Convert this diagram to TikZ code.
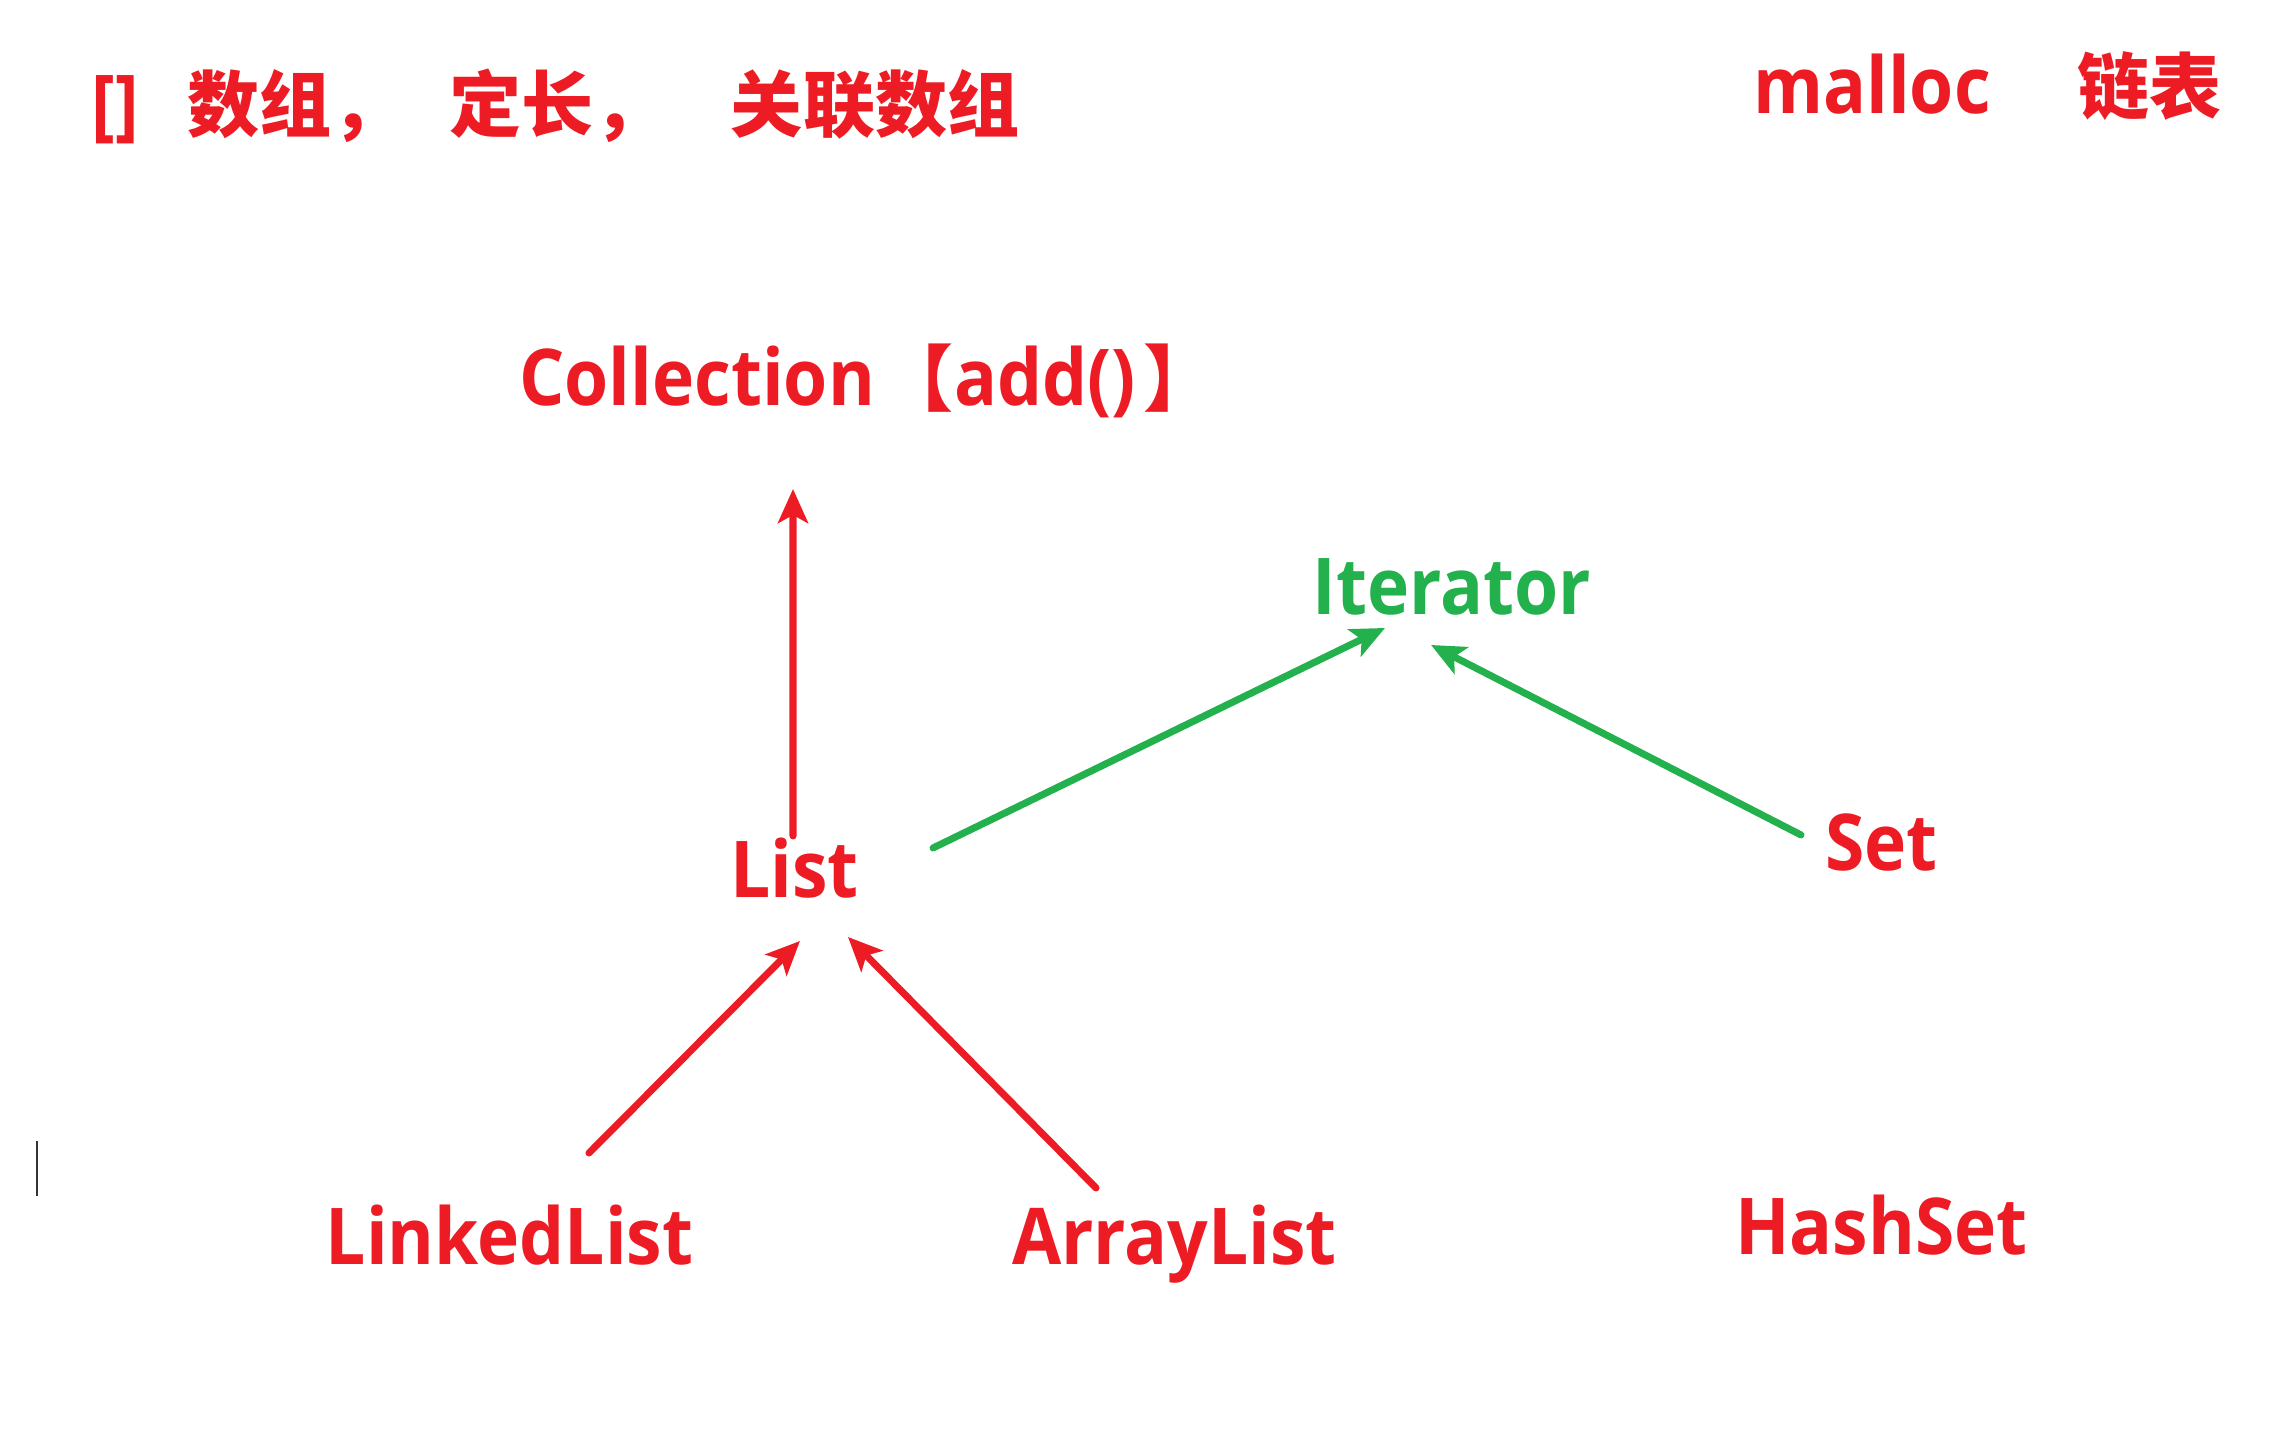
\documentclass[tikz,border=0pt]{standalone}
\usepackage{fontspec}
\setmainfont{Open Sans}[FakeStretch=0.91]
\newfontfamily\cjk{Noto Sans CJK SC}
\usetikzlibrary{arrows.meta,positioning}
\definecolor{paintred}{RGB}{237,28,36}
\definecolor{paintgreen}{RGB}{34,177,76}
\newcommand{\cjkbig}{\fontsize{20.5pt}{24pt}\selectfont\cjk\bfseries}
\tikzset{
    label/.style = {inner sep=0pt, anchor=base, text=paintred,
        font=\fontsize{22.3pt}{26pt}\selectfont\bfseries},
    cjklabel/.style = {inner sep=0pt, anchor=base, text=paintred,
        font=\cjkbig},
    redarrow/.style = {draw=paintred, line width=2pt, line cap=round,
        -{Stealth[length=0.34cm, width=0.30cm, inset=0.08cm]}},
    greenarrow/.style = {redarrow, draw=paintgreen}
}
\begin{document}
\begin{tikzpicture}
    \useasboundingbox (0,0) rectangle (22.69,14.50);
    % top line notes
    \node [label, anchor=base west] (head) at (0.91,13.18)
        {\makebox[0.96cm][l]{[]}{\cjkbig 数组，\hspace{0.46cm}定长，\hspace{0.65cm}关联数组}};
    \node [label] (malloc) at (18.72,13.36) {malloc};
    \node [cjklabel] (lianbiao) at (21.495,13.36) {链表};
    % hierarchy
    \node [label] (coll) at (8.675,10.44) {Collection\hspace{0.07cm}{\cjkbig 【}add()\hspace{0.08cm}{\cjkbig 】}};
    \node [label, text=paintgreen] (iter) at (14.52,8.35) {Iterator};
    \node [label] (list) at (7.945,5.52) {List};
    \node [label] (set) at (18.815,5.79) {Set};
    \node [label] (linked) at (5.095,1.85) {LinkedList};
    \node [label] (array) at (11.745,1.85) {ArrayList};
    \node [label] (hashset) at (18.815,1.95) {HashSet};
    \draw [redarrow] ([shift={(-0.015,0.62)}]list.base) -- ([shift={(-0.745,-0.83)}]coll.base);
    \draw [greenarrow] ([shift={(1.385,0.50)}]list.base) -- ([shift={(-0.67,-0.13)}]iter.base);
    \draw [greenarrow] ([shift={(-0.805,0.36)}]set.base) -- ([shift={(-0.21,-0.30)}]iter.base);
    \draw [redarrow] ([shift={(0.795,1.12)}]linked.base) -- ([shift={(0.055,-0.43)}]list.base);
    \draw [redarrow] ([shift={(-0.785,0.77)}]array.base) -- ([shift={(0.535,-0.39)}]list.base);
    % cursor mark
    \coordinate (cur) at (0.37,2.54);
    \draw [black!80, line width=0.6pt] (cur) -- ++(0,0.55);
\end{tikzpicture}
\end{document}
